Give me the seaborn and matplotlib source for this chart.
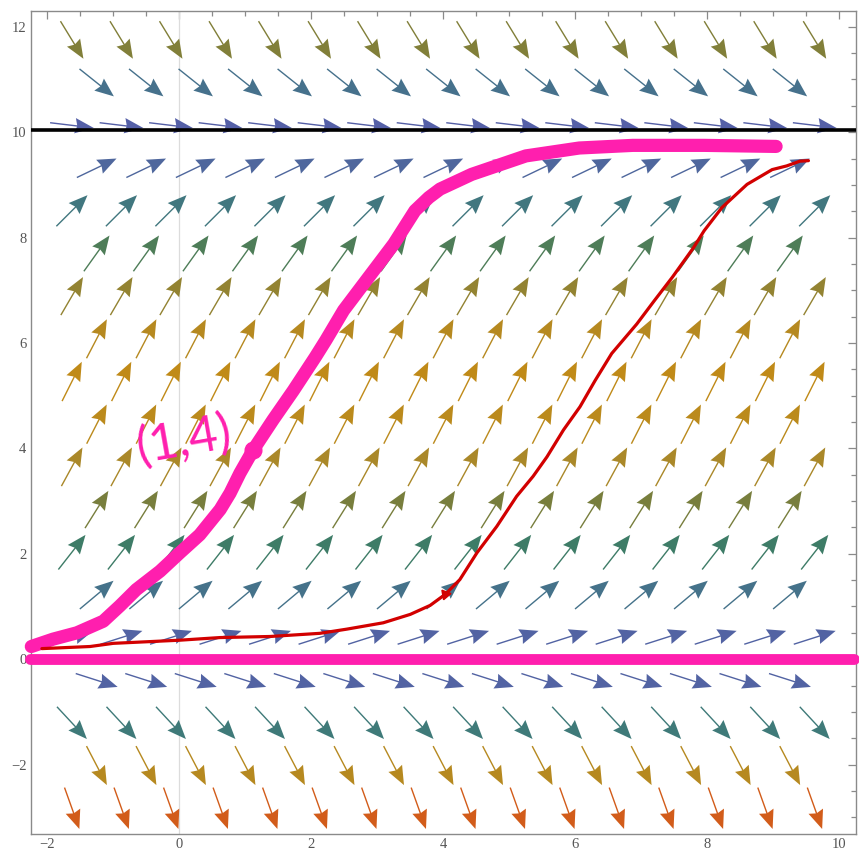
import numpy as np
import pandas as pd
import matplotlib
matplotlib.use("Agg")
import matplotlib.pyplot as plt
from matplotlib.colors import LinearSegmentedColormap
from matplotlib.ticker import MultipleLocator
import seaborn as sns

row_y = [-2.83, -2.02, -1.21, -0.40, 0.41, 1.22, 2.03, 2.84, 3.65, 4.46,
         5.27, 6.08, 6.89, 7.70, 8.51, 9.32, 10.13, 10.94, 11.75]
row_slope = [-3.5, -2.4, -1.35, -0.40, 0.40, 1.05, 1.6, 2.0, 2.3, 2.45,
             2.5, 2.4, 2.15, 1.75, 1.25, 0.6, -0.15, -1.0, -2.05]
# arrow columns, rows alternate (hexagonal layout)
cols_even = [-1.625, -0.875, -0.125, 0.625, 1.375, 2.125, 2.875, 3.625,
             4.375, 5.125, 5.875, 6.625, 7.375, 8.125, 8.875, 9.625]
cols_odd = [-1.25, -0.5, 0.25, 1.0, 1.75, 2.5, 3.25, 4.0,
            4.75, 5.5, 6.25, 7.0, 7.75, 8.5, 9.25]

# hand drawn solution curves
pink_x = [-2.24, -1.91, -1.55, -1.15, -0.90, -0.65, -0.29, 0.01, 0.31, 0.62,
          0.77, 0.92, 1.12, 1.42, 1.73, 2.06, 2.22, 2.49, 2.87, 3.25,
          3.57, 3.78, 3.95, 4.43, 5.25, 6.06, 6.87, 7.95, 9.04]
pink_y = [0.24, 0.38, 0.50, 0.72, 1.01, 1.32, 1.67, 2.02, 2.36, 2.84,
          3.15, 3.53, 3.97, 4.54, 5.10, 5.73, 6.05, 6.62, 7.25, 7.88,
          8.51, 8.76, 8.92, 9.20, 9.55, 9.70, 9.75, 9.75, 9.73]
red_x = [-2.08, -1.35, -1.0, 0.01, 0.62, 1.37, 2.13, 2.54, 3.09, 3.50,
         3.80, 4.03, 4.25, 4.51, 4.81, 5.11, 5.36, 5.57, 5.82, 6.07,
         6.30, 6.55, 6.93, 7.20, 7.47, 7.79, 7.95, 8.22, 8.60, 8.98,
         9.20, 9.40, 9.53]
red_y = [0.20, 0.24, 0.30, 0.36, 0.41, 0.43, 0.49, 0.57, 0.69, 0.85,
         1.02, 1.23, 1.51, 2.02, 2.52, 3.09, 3.47, 3.84, 4.35, 4.79,
         5.29, 5.80, 6.36, 6.81, 7.25, 7.81, 8.13, 8.57, 9.01, 9.29,
         9.36, 9.45, 9.46]
pink_point = (1.12, 3.97)
red_point = (4.03, 1.23)
equilibrium_top = 10.05
point_label = "(1,4)"

PINK = "#ff1fae"
RED = "#d20000"

sns.set_style("white")
plt.rcParams["font.family"] = ["Liberation Serif", "DejaVu Serif"]

fig = plt.figure(figsize=(8.59, 8.52), dpi=100)
ax = fig.add_axes([0.0357, 0.021, 0.9608, 0.9661])
ax.set_xlim(-2.25, 10.25)
ax.set_ylim(-3.32, 12.3)

# arrow table
rows = []
for k, (y, s) in enumerate(zip(row_y, row_slope)):
    cols = cols_even if k % 2 == 0 else cols_odd
    for x in cols:
        rows.append({"x": x, "y": y, "slope": s})
field = pd.DataFrame(rows)
field["mag"] = np.sqrt(1 + field["slope"] ** 2)

# colour by magnitude
stops = [(0.0, "#5560a8"), (0.16, "#45728a"), (0.25, "#3f7a78"),
         (0.34, "#3e7c62"), (0.45, "#7a7e3c"), (0.54, "#a8882a"),
         (0.61, "#c08a18"), (1.0, "#d4561a")]
cmap = LinearSegmentedColormap.from_list("field", stops)
t = (field["mag"] - 1.0) / (3.76 - 1.0)
colors = cmap(t.clip(0, 1).values)

# direction on screen, constant arrow length in pixels
p0 = ax.transData.transform((0, 0))
p1 = ax.transData.transform((1, 1))
sx, sy = p1 - p0
u = sx * np.ones(len(field))
v = sy * field["slope"].values
norm = np.hypot(u, v)
arrow_len = 44.0
u = u / norm * arrow_len
v = v / norm * arrow_len

ax.quiver(field["x"], field["y"], u, v, color=colors, angles="uv",
          scale_units="dots", scale=1, units="dots", width=1.4,
          headwidth=11, headlength=13.5, headaxislength=12,
          pivot="middle", zorder=2)

ax.axvline(0, color="#dcdcdc", lw=0.9, zorder=1)
ax.axhline(equilibrium_top, color="black", lw=2.6, zorder=3)

# y = 0 solution
ax.plot([-2.26, 10.22], [0, 0], color=PINK, lw=7.8,
        solid_capstyle="round", clip_on=False, zorder=4)

sns.lineplot(x=pink_x, y=pink_y, sort=False, estimator=None, ax=ax,
             color=PINK, lw=9.5, solid_capstyle="round",
             solid_joinstyle="round", clip_on=False, zorder=4)
ax.plot(*pink_point, "o", color=PINK, ms=12, zorder=4)

sns.lineplot(x=red_x, y=red_y, sort=False, estimator=None, ax=ax,
             color=RED, lw=2.3, solid_capstyle="round", zorder=5)
ax.plot(*red_point, marker=(3, 0, 40), color=RED, ms=8, zorder=5)

ax.text(0.07, 4.15, point_label, color=PINK, fontsize=36,
        family=["Lato", "DejaVu Sans"], fontweight="normal",
        rotation=10, ha="center", va="center", zorder=6)

# frame and ticks
ax.xaxis.set_major_locator(MultipleLocator(2))
ax.xaxis.set_minor_locator(MultipleLocator(0.5))
ax.yaxis.set_major_locator(MultipleLocator(2))
ax.yaxis.set_minor_locator(MultipleLocator(0.5))
ax.tick_params(which="both", direction="in", top=True, right=True,
               color="#8a8a8a", width=0.9)
ax.tick_params(which="major", length=6, labelsize=10.5, labelcolor="#555555",
               pad=3)
ax.tick_params(which="minor", length=3.5)
for sp in ax.spines.values():
    sp.set_color("#8a8a8a")
    sp.set_linewidth(1.0)
ax.set_xlabel("")
ax.set_ylabel("")

fig.savefig("out.png", dpi=100, facecolor="white")
